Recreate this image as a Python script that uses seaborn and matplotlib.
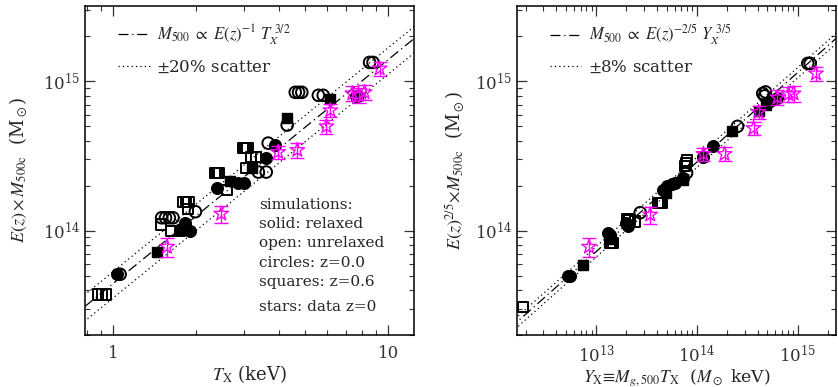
import numpy as np
import matplotlib
matplotlib.use("Agg")
import matplotlib.pyplot as plt
import seaborn as sns
from matplotlib.ticker import LogLocator, NullFormatter, LogFormatterMathtext

# -----------------------------
# data (masses in units of 1e14 Msun)
# -----------------------------
# left panel: M500 vs T_X
tx_rel_z0 = [1.03, 1.83, 1.90, 2.39, 2.85, 2.98, 3.60, 3.88, 7.65]
mt_rel_z0 = [0.51, 1.13, 0.99, 1.94, 2.09, 2.09, 3.07, 3.74, 7.94]

tx_unrel_z0 = [1.06, 1.50, 1.55, 1.60, 1.65, 1.99, 3.37, 3.60, 3.66, 4.29,
               4.59, 4.72, 4.85, 5.57, 5.80, 7.75, 8.55, 8.80]
mt_unrel_z0 = [0.51, 1.22, 1.22, 1.22, 1.22, 1.34, 2.47, 2.47, 3.86, 5.10,
               8.45, 8.45, 8.45, 8.07, 8.07, 7.94, 13.4, 13.4]

tx_rel_z06 = [1.445, 1.78, 2.66, 3.20, 4.30, 6.16]
mt_rel_z06 = [0.725, 1.03, 2.15, 2.63, 5.66, 7.59]

tx_unrel_z06 = [0.88, 0.91, 0.94, 1.49, 1.62, 1.75, 1.80, 1.84, 1.88, 1.87,
                2.35, 2.39, 2.43, 2.60, 2.96, 3.00, 3.04, 3.08, 3.04, 3.17, 3.30]
mt_unrel_z06 = [0.374, 0.374, 0.374, 1.10, 1.00, 1.00, 1.56, 1.56, 1.56, 1.40,
                2.44, 2.44, 2.44, 1.88, 3.57, 3.57, 3.57, 3.57, 2.63, 3.10, 3.10]

tx_obs = [1.57, 2.47, 3.98, 4.67, 5.96, 6.16, 7.40, 7.80, 8.20, 9.30]
mt_obs = [0.78, 1.30, 3.36, 3.47, 5.00, 6.40, 8.30, 8.10, 8.45, 12.2]
mt_obs_err = [0.11, 0.17, 0.35, 0.40, 0.55, 0.65, 0.95, 0.95, 1.00, 1.30]

# right panel: M500 vs Y_X
yx_rel_z0 = [5.2e12, 5.5e12, 1.32e13, 1.36e13, 1.98e13, 2.05e13, 4.6e13, 5.1e13,
             5.6e13, 6.1e13, 7.3e13, 1.16e14, 1.46e14, 5.0e14, 5.3e14, 6.2e14]
my_rel_z0 = [0.50, 0.50, 0.97, 0.93, 1.12, 1.08, 1.88, 1.98,
             2.04, 2.10, 2.25, 3.12, 3.69, 7.14, 7.40, 7.80]

yx_unrel_z0 = [2.74e13, 7.9e13, 2.53e14, 4.5e14, 4.7e14, 4.8e14, 1.26e15, 1.33e15]
my_unrel_z0 = [1.32, 2.44, 5.00, 8.30, 8.00, 8.50, 13.2, 13.2]

yx_rel_z06 = [7.4e12, 1.42e13, 4.9e13, 7.2e13, 2.25e14, 4.1e14, 4.9e14]
my_rel_z06 = [0.593, 0.88, 1.78, 2.20, 4.64, 6.30, 6.90]

yx_unrel_z06 = [1.88e12, 1.38e13, 1.42e13, 1.46e13, 2.05e13, 2.15e13, 2.45e13,
                4.1e13, 4.3e13, 4.5e13, 7.6e13, 7.8e13, 8.0e13]
my_unrel_z06 = [0.307, 0.83, 0.83, 0.83, 1.20, 1.18, 1.15,
                1.54, 1.54, 1.54, 2.70, 2.84, 2.95]

yx_obs = [8.5e12, 3.44e13, 1.16e14, 1.88e14, 3.65e14, 4.09e14, 6.3e14, 8.1e14, 9.1e14, 1.52e15]
my_obs = [0.78, 1.28, 3.26, 3.26, 4.86, 6.22, 7.80, 8.20, 8.30, 11.3]
my_obs_err = [0.11, 0.17, 0.33, 0.35, 0.50, 0.60, 0.90, 0.95, 1.00, 1.20]

# power-law fits
t_norm, t_slope, t_scatter = 4.43e13, 1.5, 0.20      # M at T=1 keV
y_norm, y_slope, y_scatter = 2.88e14, 0.6, 0.08      # M at Y=1e14

# -----------------------------
# style
# -----------------------------
sns.set_style("ticks")
plt.rcParams["font.family"] = ["DejaVu Serif"]
plt.rcParams["mathtext.fontset"] = "stix"
plt.rcParams["axes.linewidth"] = 1.1
for ax_ in ("xtick", "ytick"):
    plt.rcParams[f"{ax_}.direction"] = "in"
    plt.rcParams[f"{ax_}.major.size"] = 7
    plt.rcParams[f"{ax_}.minor.size"] = 3.5
    plt.rcParams[f"{ax_}.major.width"] = 0.9
    plt.rcParams[f"{ax_}.minor.width"] = 0.8
    plt.rcParams[f"{ax_}.labelsize"] = 12
    plt.rcParams[f"{ax_}.color"] = "#333333"
plt.rcParams["xtick.major.pad"] = 7

fig = plt.figure(figsize=(8.38, 3.87), dpi=100)
axL = fig.add_axes([85 / 838, 52 / 387, 329 / 838, 329 / 387])
axR = fig.add_axes([517 / 838, 52 / 387, 319 / 838, 329 / 387])


def draw_sims(ax, groups):
    for x, m, marker, filled, size in groups:
        x = np.array(x)
        y = np.array(m) * 1e14
        if filled:
            sns.scatterplot(x=x, y=y, ax=ax, marker=marker, s=size,
                            color="black", edgecolor="black", linewidth=1.0, zorder=3)
        else:
            sns.scatterplot(x=x, y=y, ax=ax, marker=marker, s=size,
                            facecolor="none", edgecolor="black", linewidth=1.4, zorder=3)


def draw_obs(ax, x, m, err):
    y = np.array(m) * 1e14
    e = np.array(err) * 1e14
    ax.errorbar(x, y, yerr=e, fmt="none", ecolor="magenta", elinewidth=1.0,
                capsize=5, capthick=1.0, zorder=4)
    sns.scatterplot(x=x, y=y, ax=ax, marker="*", s=120, facecolor="none",
                    edgecolor="magenta", linewidth=1.0, zorder=5)


def setup_axes(ax):
    ax.set_xscale("log")
    ax.set_yscale("log")
    ax.set_ylim(2.0e13, 3.2e15)
    ax.tick_params(which="both", top=True, right=True)
    ax.yaxis.set_major_locator(LogLocator(base=10))
    ax.yaxis.set_minor_locator(LogLocator(base=10, subs=np.arange(2, 10)))
    ax.yaxis.set_minor_formatter(NullFormatter())
    ax.yaxis.set_major_formatter(LogFormatterMathtext())
    for sp in ax.spines.values():
        sp.set_color("black")


def add_legend(ax):
    ax.legend(loc="upper left", bbox_to_anchor=(0.055, 0.995), frameon=False,
              fontsize=12, handlelength=1.9, handletextpad=0.45, labelspacing=0.7)


# -----------------------------
# left panel
# -----------------------------
draw_sims(axL, [
    (tx_unrel_z06, mt_unrel_z06, "s", False, 55),
    (tx_rel_z06, mt_rel_z06, "s", True, 55),
    (tx_unrel_z0, mt_unrel_z0, "o", False, 70),
    (tx_rel_z0, mt_rel_z0, "o", True, 70),
])
draw_obs(axL, tx_obs, mt_obs, mt_obs_err)

t_line = np.logspace(np.log10(0.7), np.log10(14), 50)
m_line = t_norm * t_line ** t_slope
axL.plot(t_line, m_line, color="black", lw=0.9, ls=(0, (8, 3, 1, 3)),
         label=r"$M_{500}\ \propto\ E(z)^{-1}\ T_X^{\ 3/2}$", zorder=2)
axL.plot(t_line, m_line * (1 + t_scatter), color="black", lw=0.9, ls=(0, (1, 2.5)),
         label=r"$\pm$20% scatter", zorder=2)
axL.plot(t_line, m_line * (1 - t_scatter), color="black", lw=0.9, ls=(0, (1, 2.5)), zorder=2)

setup_axes(axL)
axL.set_xlim(0.79, 12.4)
axL.xaxis.set_minor_locator(LogLocator(base=10, subs=np.arange(2, 10)))
axL.xaxis.set_minor_formatter(NullFormatter())
axL.set_xticks([1, 10])
axL.set_xticklabels(["1", "10"])
axL.set_xlabel(r"$T_{\rm X}$ (keV)", fontsize=13, labelpad=1)
axL.set_ylabel(r"$E(z)\times M_{\rm 500c}$  (M$_\odot$)", fontsize=13, labelpad=10)
add_legend(axL)

notes = ["simulations:", "solid: relaxed", "open: unrelaxed",
         "circles: z=0.0", "squares: z=0.6", "stars: data z=0"]
note_y = [0.395, 0.337, 0.280, 0.219, 0.161, 0.085]
for txt, yy in zip(notes, note_y):
    axL.text(0.53, yy, txt, transform=axL.transAxes, fontsize=11, va="center", ha="left")

# -----------------------------
# right panel
# -----------------------------
draw_sims(axR, [
    (yx_unrel_z06, my_unrel_z06, "s", False, 55),
    (yx_rel_z06, my_rel_z06, "s", True, 55),
    (yx_unrel_z0, my_unrel_z0, "o", False, 70),
    (yx_rel_z0, my_rel_z0, "o", True, 70),
])
draw_obs(axR, yx_obs, my_obs, my_obs_err)

y_line = np.logspace(12, 15.6, 50)
my_line = y_norm * (y_line / 1e14) ** y_slope
axR.plot(y_line, my_line, color="black", lw=0.9, ls=(0, (8, 3, 1, 3)),
         label=r"$M_{500}\ \propto\ E(z)^{-2/5}\ Y_X^{\ 3/5}$", zorder=2)
axR.plot(y_line, my_line * (1 + y_scatter), color="black", lw=0.9, ls=(0, (1, 2.5)),
         label=r"$\pm$8% scatter", zorder=2)
axR.plot(y_line, my_line * (1 - y_scatter), color="black", lw=0.9, ls=(0, (1, 2.5)), zorder=2)

setup_axes(axR)
axR.set_xlim(1.64e12, 2.4e15)
axR.xaxis.set_major_locator(LogLocator(base=10))
axR.xaxis.set_minor_locator(LogLocator(base=10, subs=np.arange(2, 10)))
axR.xaxis.set_minor_formatter(NullFormatter())
axR.xaxis.set_major_formatter(LogFormatterMathtext())
axR.set_xlabel(r"$Y_{\rm X}\!\equiv\! M_{g,500}T_{\rm X}$  ($M_\odot$ keV)", fontsize=12.5, labelpad=1)
axR.set_ylabel(r"$E(z)^{2/5}\!\times\! M_{\rm 500c}$  (M$_\odot$)", fontsize=13, labelpad=6)
add_legend(axR)

fig.savefig("out.png", dpi=100)
